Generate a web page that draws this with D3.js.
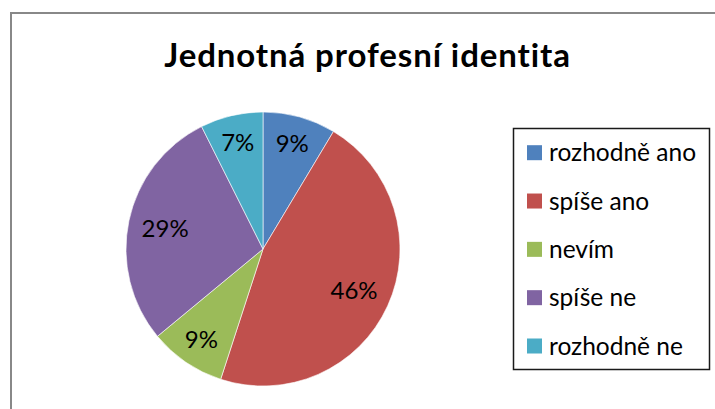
<!DOCTYPE html>
<html>
<head>
<meta charset="utf-8">
<script src="https://cdn.jsdelivr.net/npm/d3@7"></script>
<style>
  body { margin: 0; background: #fff; }
  text { font-family: Lato, "Open Sans", sans-serif; }
</style>
</head>
<body>
<div id="chart-container"></div>
<script>
const categories = ["rozhodně ano", "spíše ano", "nevím", "spíše ne", "rozhodně ne"];
const values = [8.6, 46.4, 9.0, 28.6, 7.4];
const valueLabels = ["9%", "46%", "9%", "29%", "7%"];
const colors = ["#4f81bd", "#c0504d", "#9bbb59", "#8064a2", "#4bacc6"];
const title = "Jednotná profesní identita";

const width = 715;
const height = 409;

const svg = d3
  .select("#chart-container")
  .append("svg")
  .attr("width", width)
  .attr("height", height);

svg.append("rect").attr("width", width).attr("height", height).attr("fill", "#fff");

//Outer chart border (runs off the right and bottom edge)
svg
  .append("rect")
  .attr("x", 11)
  .attr("y", 13)
  .attr("width", width)
  .attr("height", height)
  .attr("fill", "none")
  .attr("stroke", "#888")
  .attr("stroke-width", 2);

//Title
svg
  .append("text")
  .attr("x", 367.5)
  .attr("y", 67)
  .attr("text-anchor", "middle")
  .style("font-size", "33px")
  .style("font-weight", "bold")
  .style("letter-spacing", "0.9px")
  .style("fill", "#000")
  .text(title);

//Pie
const cx = 263;
const cy = 249;
const radius = 137;

const pie = d3.pie().sort(null).value((d) => d);
const arcs = pie(values);
const arc = d3.arc().innerRadius(0).outerRadius(radius);

const g = svg.append("g").attr("transform", `translate(${cx}, ${cy})`);

g.selectAll("path")
  .data(arcs)
  .join("path")
  .attr("d", arc)
  .attr("fill", (d, i) => colors[i])
  .attr("stroke", "#fff")
  .attr("stroke-width", 0.6);

//Data labels, small slices sit further out
g.selectAll("text")
  .data(arcs)
  .join("text")
  .attr("transform", (d) => {
    const share = (d.endAngle - d.startAngle) / (2 * Math.PI);
    const r = share < 0.15 ? radius * 0.8 : radius * 0.73;
    const a = (d.startAngle + d.endAngle) / 2;
    return `translate(${Math.sin(a) * r}, ${-Math.cos(a) * r})`;
  })
  .attr("text-anchor", "middle")
  .attr("dy", "0.35em")
  .style("font-size", "24px")
  .style("fill", "#000")
  .text((d, i) => valueLabels[i]);

//Legend
const legend = svg.append("g");
legend
  .append("rect")
  .attr("x", 513.5)
  .attr("y", 128.5)
  .attr("width", 196)
  .attr("height", 241)
  .attr("fill", "#fff")
  .attr("stroke", "#1a1a1a")
  .attr("stroke-width", 1.5);

const rowY = d3.scalePoint().domain(categories).range([152.7, 346]);

const item = legend
  .selectAll("g.item")
  .data(categories)
  .join("g")
  .attr("class", "item")
  .attr("transform", (d) => `translate(527, ${rowY(d)})`);

item
  .append("rect")
  .attr("x", 0)
  .attr("y", -7.5)
  .attr("width", 15)
  .attr("height", 15)
  .attr("fill", (d, i) => colors[i]);

item
  .append("text")
  .attr("x", 22)
  .attr("dy", "0.35em")
  .style("font-size", "24.5px")
  .style("fill", "#000")
  .text((d) => d);
</script>
</body>
</html>
